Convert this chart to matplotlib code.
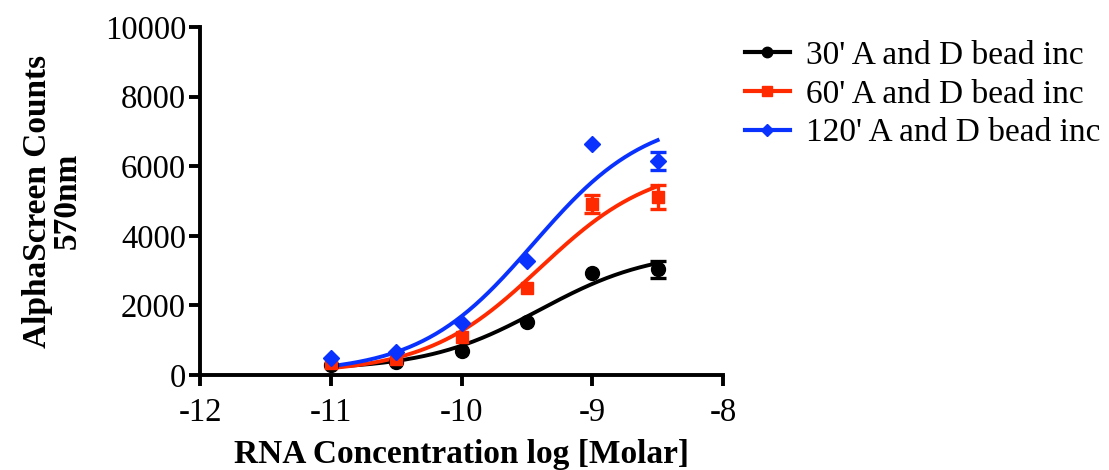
import numpy as np
import matplotlib
matplotlib.use("Agg")
import matplotlib.pyplot as plt

# ---- data ----
log_conc = [-11.0, -10.5, -10.0, -9.5, -9.0, -8.5]

y30 = [300, 380, 700, 1530, 2920, 3035]
e30 = [0, 0, 0, 0, 0, 240]
y60 = [350, 450, 1100, 2490, 4910, 5120]
e60 = [0, 0, 0, 0, 260, 350]
y120 = [480, 670, 1500, 3280, 6650, 6150]
e120 = [0, 0, 0, 0, 0, 245]

# 4PL fit parameters (bottom, top, logEC50, hill)
fit30 = (150, 3600, -9.4, 1.0)
fit60 = (50, 6100, -9.4, 1.0)
fit120 = (50, 7500, -9.45, 1.0)

labels = ["30' A and D bead inc", "60' A and D bead inc", "120' A and D bead inc"]
colors = ["#000000", "#ff2a00", "#0a32ff"]
markers = ["o", "s", "D"]

xticks = [-12, -11, -10, -9, -8]
yticks = [0, 2000, 4000, 6000, 8000, 10000]

plt.rcParams['font.family'] = ['Liberation Serif', 'DejaVu Serif']

fig = plt.figure(figsize=(11.09, 4.70), dpi=100)
ax = fig.add_axes([200/1109, 1-375/470, (723-200)/1109, (375-27)/470])

def four_pl(x, p):
    b, t, ec, h = p
    return b + (t - b) / (1 + 10 ** ((ec - x) * h))

xs = np.linspace(log_conc[0], log_conc[-1], 200)
msizes = [10, 9, 8.5]
for y, e, p, lab, c, m, ms in zip([y30, y60, y120], [e30, e60, e120],
                                  [fit30, fit60, fit120], labels, colors, markers, msizes):
    xe = [xv for xv, ev in zip(log_conc, e) if ev > 0]
    ye = [yv for yv, ev in zip(y, e) if ev > 0]
    ee = [ev for ev in e if ev > 0]
    ax.errorbar(xe, ye, yerr=ee, fmt='none', ecolor=c, capsize=5.5,
                elinewidth=2.4, capthick=2.4, zorder=3)
    ax.plot(log_conc, y, linestyle='none', marker=m, color=c, ms=ms, zorder=4)
    ax.plot(xs, four_pl(xs, p), color=c, lw=2.8, zorder=2)
    ax.plot([], [], color=c, lw=3, marker=m, ms=ms*0.75, label=lab)

ax.set_xlim(-12, -8)
ax.set_ylim(0, 10000)
ax.set_xticks(xticks)
ax.set_yticks(yticks)
ax.set_xticklabels([str(t) for t in xticks])
ax.set_yticklabels([str(t) for t in yticks])
for s in ['top', 'right']:
    ax.spines[s].set_visible(False)
for s in ['left', 'bottom']:
    ax.spines[s].set_linewidth(2.8)
ax.tick_params(axis='both', width=2.8, length=8, labelsize=23.5, direction='out')
ax.tick_params(axis='x', pad=8)
ax.tick_params(axis='y', pad=2)

ax.set_xlabel("RNA Concentration log [Molar]", fontsize=24, fontweight='bold', labelpad=8)
ax.set_ylabel("AlphaScreen Counts\n570nm", fontsize=24, fontweight='bold', labelpad=16,
              linespacing=0.95)

ax.legend(loc='upper left', bbox_to_anchor=(1.042, 0.962), frameon=False, fontsize=24,
          handlelength=1.35, handletextpad=0.48, labelspacing=0.25, borderaxespad=0,
          borderpad=0)

fig.savefig("out.png", dpi=100)
